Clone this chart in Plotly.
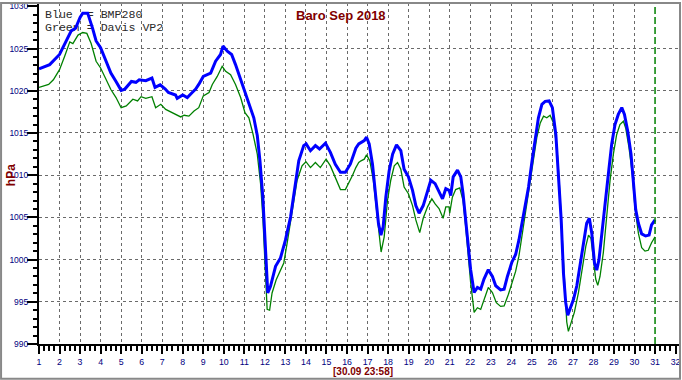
import plotly.graph_objects as go

# ---------------- data ----------------
blue_days = [
    1.00, 1.52, 2.00, 2.33, 2.57, 2.78, 3.00, 3.13, 3.37, 3.61,
    3.78, 4.00, 4.26, 4.50, 4.75, 5.00, 5.18, 5.50, 5.72, 5.88,
    6.20, 6.50, 6.65, 6.90, 7.15, 7.30, 7.65, 7.73, 8.00, 8.22,
    8.46, 8.63, 8.78, 9.00, 9.36, 9.60, 9.84, 9.96, 10.17, 10.38,
    10.57, 10.82, 10.99, 11.22, 11.46, 11.63, 11.76, 11.90, 12.03, 12.14,
    12.27, 12.52, 12.76, 13.00, 13.25, 13.49, 13.65, 13.89, 14.01, 14.22,
    14.46, 14.66, 14.95, 15.19, 15.43, 15.68, 15.92, 16.16, 16.27, 16.43,
    16.57, 16.68, 16.84, 16.95, 17.08, 17.24, 17.40, 17.53, 17.65, 17.76,
    17.89, 18.05, 18.22, 18.41, 18.62, 18.78, 18.99, 19.19, 19.35, 19.51,
    19.71, 19.87, 20.08, 20.29, 20.45, 20.65, 20.81, 20.97, 21.05, 21.17,
    21.38, 21.54, 21.65, 21.78, 21.91, 22.02, 22.19, 22.35, 22.51, 22.67,
    22.88, 23.08, 23.24, 23.48, 23.65, 23.81, 24.03, 24.21, 24.37, 24.51,
    24.68, 24.84, 25.00, 25.16, 25.32, 25.49, 25.65, 25.84, 26.00, 26.17,
    26.30, 26.43, 26.54, 26.65, 26.75, 26.86, 27.03, 27.19, 27.35, 27.51,
    27.67, 27.80, 27.92, 28.05, 28.16, 28.27, 28.40, 28.57, 28.73, 28.89,
    29.05, 29.21, 29.38, 29.51, 29.67, 29.83, 29.94, 30.06, 30.19, 30.35,
    30.54, 30.71, 30.83, 31.00,
]
blue_hpa = [
    1022.6, 1023.1, 1024.3, 1026.0, 1027.1, 1027.4, 1028.7, 1029.2, 1029.2, 1027.4,
    1025.9, 1025.1, 1023.5, 1022.1, 1021.1, 1020.05, 1020.2, 1021.1, 1021.0, 1021.3,
    1021.2, 1021.5, 1020.4, 1020.7, 1020.2, 1019.8, 1019.5, 1019.1, 1019.5, 1019.2,
    1019.8, 1020.2, 1020.75, 1021.7, 1022.1, 1023.5, 1024.3, 1025.3, 1024.7, 1024.3,
    1023.1, 1021.3, 1020.0, 1018.6, 1016.8, 1014.7, 1011.7, 1007.4, 1001.1, 996.05,
    996.8, 999.2, 1000.2, 1002.3, 1005.05, 1009.4, 1011.7, 1013.5, 1013.7, 1012.9,
    1013.5, 1013.1, 1013.8, 1012.7, 1011.3, 1010.35, 1010.35, 1011.3, 1012.1, 1013.2,
    1013.7, 1013.9, 1014.1, 1014.5, 1013.7, 1011.3, 1007.8, 1004.3, 1002.9, 1003.9,
    1007.4, 1010.5, 1012.5, 1013.6, 1012.9, 1010.7, 1009.8, 1008.2, 1006.4, 1005.5,
    1006.4, 1007.8, 1009.4, 1009.0, 1008.2, 1007.2, 1008.4, 1008.2, 1007.6, 1009.8,
    1010.6, 1009.8, 1007.8, 1004.7, 1000.8, 998.8, 996.1, 996.7, 996.5, 997.7,
    998.8, 998.0, 996.9, 996.4, 996.5, 998.0, 999.7, 1000.6, 1002.3, 1004.3,
    1006.3, 1008.6, 1011.5, 1014.3, 1016.8, 1018.4, 1018.75, 1018.8, 1018.0, 1014.8,
    1010.2, 1004.7, 998.4, 994.9, 993.4, 994.1, 995.3, 996.9, 999.2, 1002.0,
    1004.3, 1004.9, 1003.1, 999.6, 998.75, 1000.0, 1002.7, 1006.25, 1010.2, 1013.7,
    1016.0, 1017.2, 1018.0, 1017.2, 1015.2, 1012.5, 1009.4, 1005.9, 1004.3, 1003.05,
    1002.8, 1002.9, 1004.1, 1004.7,
]
green_days = [
    1.00, 1.47, 1.70, 2.00, 2.25, 2.50, 2.65, 2.90, 3.13, 3.33,
    3.54, 3.78, 4.00, 4.27, 4.50, 4.75, 5.00, 5.25, 5.57, 5.80,
    5.97, 6.20, 6.50, 6.68, 6.93, 7.17, 7.50, 7.90, 8.07, 8.30,
    8.55, 8.78, 9.00, 9.28, 9.44, 9.68, 9.92, 10.09, 10.33, 10.57,
    10.82, 11.03, 11.22, 11.42, 11.63, 11.79, 11.90, 12.03, 12.11, 12.23,
    12.35, 12.55, 12.76, 12.92, 13.08, 13.25, 13.41, 13.57, 13.81, 14.00,
    14.22, 14.46, 14.70, 14.98, 15.19, 15.43, 15.68, 15.92, 16.12, 16.27,
    16.43, 16.57, 16.68, 16.84, 16.95, 17.11, 17.28, 17.44, 17.57, 17.66,
    17.81, 17.97, 18.13, 18.30, 18.46, 18.62, 18.78, 18.99, 19.19, 19.35,
    19.54, 19.71, 19.92, 20.13, 20.29, 20.48, 20.68, 20.81, 20.97, 21.00,
    21.13, 21.29, 21.49, 21.65, 21.78, 21.91, 22.02, 22.19, 22.35, 22.51,
    22.67, 22.88, 23.08, 23.27, 23.48, 23.65, 23.86, 24.05, 24.21, 24.37,
    24.51, 24.76, 24.92, 25.08, 25.24, 25.41, 25.57, 25.73, 25.89, 26.05,
    26.22, 26.33, 26.46, 26.59, 26.70, 26.78, 26.91, 27.07, 27.27, 27.46,
    27.63, 27.76, 27.88, 28.00, 28.11, 28.21, 28.32, 28.48, 28.65, 28.81,
    28.97, 29.13, 29.29, 29.46, 29.57, 29.73, 29.89, 30.02, 30.19, 30.35,
    30.51, 30.67, 30.83, 31.00,
]
green_hpa = [
    1020.4, 1020.75, 1021.3, 1022.5, 1024.1, 1025.8, 1025.6, 1026.6, 1026.9, 1026.8,
    1025.6, 1023.5, 1022.7, 1021.3, 1020.15, 1019.2, 1018.0, 1018.2, 1019.0, 1018.8,
    1019.3, 1019.1, 1019.3, 1018.0, 1018.4, 1017.8, 1017.4, 1016.9, 1017.1, 1017.0,
    1017.6, 1018.0, 1019.4, 1019.8, 1020.75, 1021.7, 1022.9, 1022.3, 1021.9, 1020.75,
    1019.2, 1017.4, 1016.8, 1014.9, 1012.5, 1009.0, 1005.1, 999.2, 994.1, 994.0,
    996.05, 997.6, 998.8, 999.6, 1001.9, 1004.7, 1007.0, 1009.4, 1011.1, 1011.6,
    1010.9, 1011.5, 1010.9, 1011.9, 1011.1, 1009.8, 1008.3, 1008.3, 1009.2, 1010.0,
    1010.9, 1011.5, 1011.7, 1011.9, 1012.4, 1011.7, 1009.4, 1005.9, 1002.3, 1000.9,
    1002.7, 1007.0, 1009.4, 1011.1, 1011.5, 1010.7, 1008.6, 1007.8, 1006.4, 1004.7,
    1003.2, 1004.9, 1006.25, 1007.2, 1006.6, 1006.05, 1004.9, 1006.25, 1006.25, 1005.5,
    1007.4, 1008.3, 1008.5, 1007.0, 1003.9, 1000.0, 997.3, 993.75, 994.3, 994.1,
    995.3, 996.7, 996.1, 994.9, 994.45, 994.5, 995.9, 997.5, 998.6, 1000.4,
    1002.7, 1006.25, 1009.0, 1011.7, 1014.45, 1016.2, 1017.0, 1016.8, 1017.1, 1016.2,
    1013.3, 1009.4, 1003.5, 996.9, 992.6, 991.5, 992.4, 993.75, 996.1, 998.8,
    1001.6, 1002.9, 1002.5, 1000.0, 997.7, 996.95, 998.0, 1000.8, 1005.1, 1009.4,
    1012.5, 1014.8, 1016.0, 1016.4, 1015.6, 1013.3, 1010.2, 1006.25, 1003.1, 1001.4,
    1001.0, 1001.1, 1002.0, 1002.7,
]

title_text = "Baro Sep 2018"
stamp_text = "[30.09 23:58]"
legend_lines = ["Blue  = BMP280", "Green = Davis VP2"]
x_grid_days = list(range(2, 31))
y_grid_hpa = list(range(995, 1030, 5))
now_day = 31

# ---------------- geometry ----------------
W, H = 682, 380
ML, MR, MT, MB = 39, 2, 1, 36
PW, PH = W - ML - MR, H - MT - MB
X_RANGE = [1, 1 + PW / 20.567]
Y_RANGE = [990, 990 + PH / 8.49]

def px_x(px):
    return (px - ML) / PW

def px_y(py):
    return (H - MB - py) / PH

SANS = "Liberation Sans, Arial, sans-serif"
NAVY = "#000080"
DARKRED = "#800000"

fig = go.Figure()

# empty trace that creates the overlaid grid subplot (x2/y2)
fig.add_trace(go.Scatter(x=[], y=[], xaxis="x2", yaxis="y2", mode="lines",
                         hoverinfo="skip", showlegend=False))

# legend text (under the curves)
lx = X_RANGE[0] + (45 - ML) / 20.567
ly1 = Y_RANGE[1] - (13.3 - MT) / 8.49
ly2 = Y_RANGE[1] - (26.7 - MT) / 8.49
fig.add_trace(go.Scatter(
    x=[lx, lx], y=[ly1, ly2], mode="text", text=legend_lines,
    textposition="middle right",
    textfont=dict(family="Liberation Mono, Courier New, monospace", size=11.6, color="#2a2a2a"),
    hoverinfo="skip", showlegend=False,
))

fig.add_trace(go.Scatter(
    x=green_days, y=green_hpa, mode="lines",
    line=dict(color="#008000", width=1.3), showlegend=False,
))
fig.add_trace(go.Scatter(
    x=blue_days, y=blue_hpa, mode="lines",
    line=dict(color="#0000ff", width=3), showlegend=False,
))

shapes = [
    dict(type="line", xref="x", yref="paper", x0=now_day, x1=now_day, y0=0, y1=1,
         line=dict(color="#008000", width=1.5, dash="7px,3px"), layer="above"),
    # outer frame of the picture
    dict(type="rect", xref="paper", yref="paper",
         x0=px_x(1), x1=px_x(681), y0=px_y(379), y1=px_y(1),
         line=dict(color="#888888", width=2), fillcolor="rgba(0,0,0,0)", layer="above"),
]

annotations = [
    dict(text=f"<b>{title_text}</b>", xref="paper", yref="paper",
         x=px_x(341.7), y=px_y(13.3), xanchor="center", yanchor="middle",
         showarrow=False, font=dict(family=SANS, size=13, color=DARKRED)),
    dict(text="<b>hPa</b>", xref="paper", yref="paper",
         x=px_x(10.8), y=px_y(174.3), xanchor="center", yanchor="middle", textangle=-90,
         showarrow=False, font=dict(family=SANS, size=12, color=DARKRED)),
    dict(text=f"<b>{stamp_text}</b>", xref="paper", yref="paper",
         x=px_x(363.3), y=px_y(371.8), xanchor="center", yanchor="middle",
         showarrow=False, font=dict(family=SANS, size=10, color=DARKRED)),
]

grid_common = dict(showgrid=True, gridcolor="#6a6a6a", gridwidth=1, griddash="3px,3px",
                   showticklabels=False, ticks="", showline=False, zeroline=False)

fig.update_layout(
    width=W, height=H,
    margin=dict(l=ML, r=MR, t=MT, b=MB, pad=0),
    paper_bgcolor="white", plot_bgcolor="white",
    shapes=shapes, annotations=annotations,
    showlegend=False,
    xaxis=dict(
        range=X_RANGE, tickmode="linear", tick0=1, dtick=1,
        showgrid=False, zeroline=False,
        showline=True, linecolor="black", linewidth=2,
        ticks="outside", ticklen=8, tickwidth=2, tickcolor="black",
        tickfont=dict(family=SANS, size=8.8, color=NAVY),
        ticklabeloverflow="allow",
        minor=dict(dtick=0.25, tick0=1, ticks="outside", ticklen=5, tickwidth=1.5,
                   tickcolor="black", showgrid=False),
    ),
    yaxis=dict(
        range=Y_RANGE, tickmode="linear", tick0=990, dtick=5,
        showgrid=False, zeroline=False,
        showline=True, linecolor="black", linewidth=2,
        ticks="outside", ticklen=10, tickwidth=2, tickcolor="black",
        tickfont=dict(family=SANS, size=8.5, color=NAVY),
        ticklabeloverflow="allow", ticklabelstandoff=-3,
        minor=dict(dtick=1, tick0=990, ticks="outside", ticklen=4.5, tickwidth=1.5,
                   tickcolor="black", showgrid=False),
    ),
    xaxis2=dict(overlaying="x", anchor="y2", range=X_RANGE,
                tickmode="array", tickvals=x_grid_days, **grid_common),
    yaxis2=dict(overlaying="y", anchor="x2", range=Y_RANGE,
                tickmode="array", tickvals=y_grid_hpa, **grid_common),
)

fig.write_html("out.html")
